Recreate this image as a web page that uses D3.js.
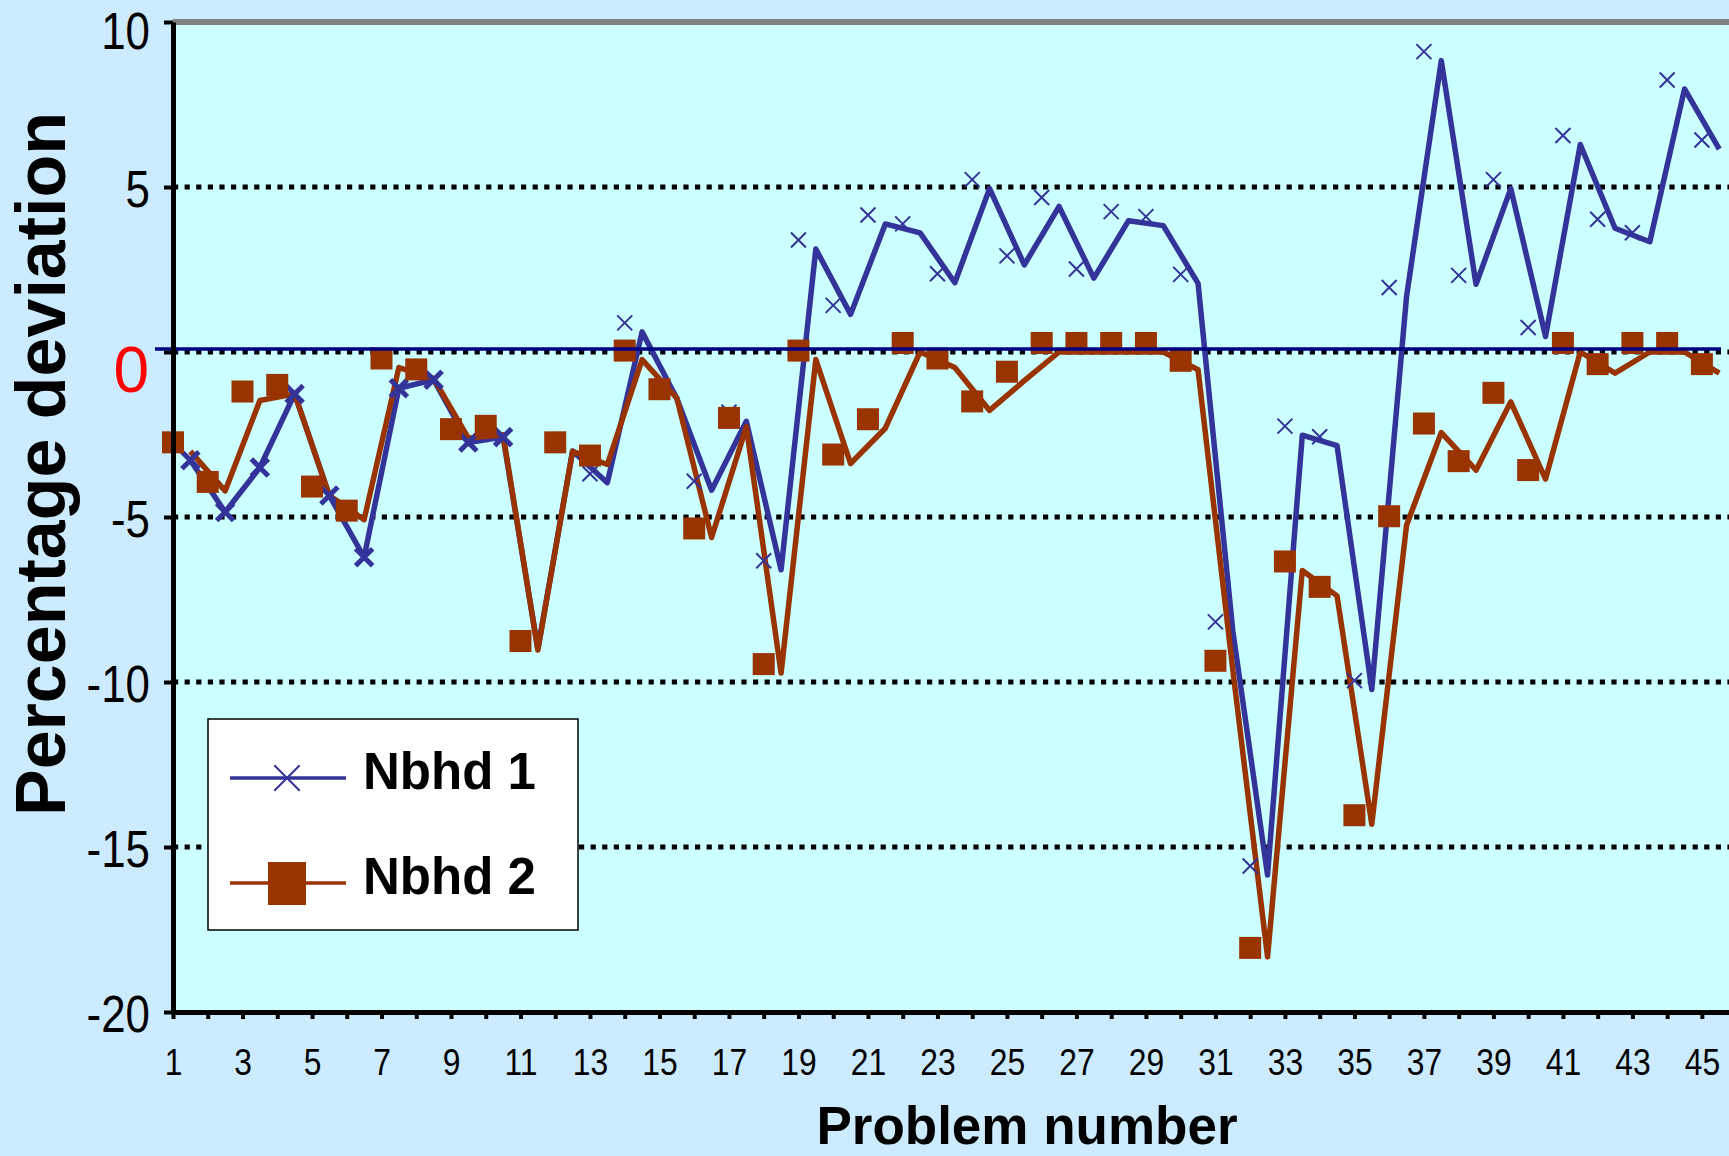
<!DOCTYPE html>
<html>
<head>
<meta charset="utf-8">
<script src="https://cdn.jsdelivr.net/npm/d3@7"></script>
<style>
    body { margin: 0; background: #cdebff; }
    .canvas svg { display: block; }
</style>
</head>
<body>
<div class="canvas"></div>
<script>
// values (percentage deviation per problem)
const problems = d3.range(1, 46);
const nbhd1 = [-3.28, -4.85, -3.5, -1.27, -4.35, -6.22, -1.1, -0.84, -2.74, -2.58,
    -9.0, -3.0, -3.96, 0.61, -1.41, -4.19, -2.1, -6.6, 3.12, 1.14,
    3.88, 3.61, 2.1, 4.95, 2.64, 4.41, 2.24, 3.98, 3.83, 2.08,
    -8.45, -15.85, -2.52, -2.84, -10.23, 1.68, 8.83, 2.05, 4.95, 0.47,
    6.29, 3.75, 3.34, 7.97, 6.15];
const nbhd2 = [-3.01, -4.21, -1.47, -1.27, -4.35, -5.08, -0.47, -0.8, -2.61, -2.51,
    -9.03, -3.01, -3.41, -0.23, -1.4, -5.62, -2.27, -9.73, -0.23, -3.38,
    -2.31, 0, -0.47, -1.77, -0.87, 0, 0, 0, 0, -0.54,
    -9.63, -18.33, -6.62, -7.39, -14.31, -5.25, -2.44, -3.58, -1.51, -3.85,
    0, -0.64, 0, 0, -0.64];
const seriesNames = ['Nbhd 1', 'Nbhd 2'];
const yTickValues = [10, 5, 0, -5, -10, -15, -20];
const gridValues = [5, 0, -5, -10, -15];

const colors = { nbhd1: '#333399', nbhd2: '#993300', zero: '#000080' };
const narrow = 0.86; // tick labels are a condensed face

const width = 1729, height = 1156;
const margin = { top: 22, right: 0, bottom: 144, left: 173 };
const graphWidth = width - margin.left - margin.right;
const graphHeight = height - margin.top - margin.bottom;

const svg = d3.select('.canvas')
    .append('svg')
    .attr('width', width)
    .attr('height', height);

svg.append('rect')
    .attr('width', width)
    .attr('height', height)
    .attr('fill', '#cdebff');

const graph = svg.append('g')
    .attr('transform', `translate(${margin.left}, ${margin.top})`);

// scales
const x = d3.scaleLinear().domain([1, 45.78]).range([0, graphWidth]);
const y = d3.scaleLinear().domain([-20, 10]).range([graphHeight, 0]);

// the line layer sits half a problem right and a touch lower than the markers
const lineDx = 0.5;
const markerDy = -9;

// plot area
graph.append('rect')
    .attr('width', graphWidth)
    .attr('height', graphHeight)
    .attr('fill', '#ccffff');

// dotted gridlines
graph.selectAll('.grid')
    .data(gridValues)
    .enter().append('line')
    .attr('class', 'grid')
    .attr('x1', 0)
    .attr('x2', graphWidth)
    .attr('y1', d => y(d))
    .attr('y2', d => y(d))
    .attr('stroke', '#000')
    .attr('stroke-width', 5)
    .attr('stroke-dasharray', '5.2 6.4');

// grey top border at 10
graph.append('line')
    .attr('x1', 0).attr('x2', graphWidth)
    .attr('y1', y(10)).attr('y2', y(10))
    .attr('stroke', '#808080')
    .attr('stroke-width', 6);

// lines
const line = d3.line()
    .x((d, i) => x(problems[i] + lineDx))
    .y(d => y(d));

[nbhd1, nbhd2].forEach((series, k) => {
    graph.append('path')
        .datum(series)
        .attr('d', line)
        .attr('fill', 'none')
        .attr('stroke', k === 0 ? colors.nbhd1 : colors.nbhd2)
        .attr('stroke-width', 5.5)
        .attr('stroke-linejoin', 'round');
});

const cross = s => `M${-s},${-s}L${s},${s}M${-s},${s}L${s},${-s}`;

// heavy crosses sit on the Nbhd 1 line for the first ten problems
graph.selectAll('.heavy-x')
    .data(nbhd1.slice(0, 10))
    .enter().append('path')
    .attr('class', 'heavy-x')
    .attr('d', cross(8.5))
    .attr('transform', (d, i) => `translate(${x(problems[i] + lineDx)}, ${y(d)})`)
    .attr('stroke', colors.nbhd1)
    .attr('stroke-width', 5)
    .attr('fill', 'none');

// thin crosses for the rest, on the marker layer
graph.selectAll('.thin-x')
    .data(nbhd1.map((v, i) => ({ p: problems[i], v })).filter(d => d.p > 10))
    .enter().append('path')
    .attr('class', 'thin-x')
    .attr('d', cross(7.5))
    .attr('transform', d => `translate(${x(d.p)}, ${y(d.v) + markerDy})`)
    .attr('stroke', colors.nbhd1)
    .attr('stroke-width', 2)
    .attr('fill', 'none');

// squares for Nbhd 2
graph.selectAll('.sq')
    .data(nbhd2)
    .enter().append('rect')
    .attr('class', 'sq')
    .attr('x', (d, i) => x(problems[i]) - 11)
    .attr('y', d => y(d) + markerDy - 11)
    .attr('width', 22)
    .attr('height', 22)
    .attr('fill', colors.nbhd2);

// navy zero line
graph.append('line')
    .attr('x1', -18).attr('x2', graphWidth - 8)
    .attr('y1', y(0) - 3).attr('y2', y(0) - 3)
    .attr('stroke', colors.zero)
    .attr('stroke-width', 3.5);

// axes
const yAxis = d3.axisLeft(y)
    .tickValues(yTickValues)
    .tickSize(9)
    .tickSizeOuter(0)
    .tickPadding(14)
    .tickFormat(d => String(d));

const xAxis = d3.axisBottom(x)
    .tickValues(problems)
    .tickSize(7)
    .tickSizeOuter(0)
    .tickPadding(30)
    .tickFormat(d => d % 2 === 1 ? String(d) : '');

const yAxisGroup = graph.append('g').attr('class', 'y-axis').call(yAxis);
const xAxisGroup = graph.append('g').attr('class', 'x-axis')
    .attr('transform', `translate(0, ${graphHeight})`)
    .call(xAxis);

[yAxisGroup, xAxisGroup].forEach(g => {
    g.select('.domain').attr('stroke', '#000').attr('stroke-width', 5);
    g.selectAll('.tick line').attr('stroke', '#000').attr('stroke-width', 4);
});

yAxisGroup.selectAll('text')
    .attr('font-family', '"Liberation Sans", Arial, sans-serif')
    .attr('font-size', 51)
    .attr('fill', '#000')
    .attr('x', -23 / narrow)
    .attr('transform', `scale(${narrow}, 1)`)
    .attr('dy', '0.38em');

// keep the top label inside the page
yAxisGroup.selectAll('.tick')
    .filter(d => d === 10)
    .select('text')
    .attr('dy', '0.52em');

yAxisGroup.selectAll('.tick')
    .filter(d => d === 0)
    .select('text')
    .attr('font-size', 64)
    .attr('fill', '#ff0000')
    .attr('x', -24)
    .attr('transform', null)
    .attr('dy', '0.62em');

xAxisGroup.selectAll('text')
    .attr('font-family', '"Liberation Sans", Arial, sans-serif')
    .attr('font-size', 37)
    .attr('fill', '#000')
    .attr('transform', `scale(${narrow}, 1)`);

// axis titles
svg.append('text')
    .attr('transform', `translate(65, 464) rotate(-90)`)
    .attr('text-anchor', 'middle')
    .attr('font-family', '"Liberation Sans", Arial, sans-serif')
    .attr('font-weight', 'bold')
    .attr('font-size', 70)
    .text('Percentage deviation');

svg.append('text')
    .attr('x', 1027)
    .attr('y', 1144)
    .attr('text-anchor', 'middle')
    .attr('font-family', '"Liberation Sans", Arial, sans-serif')
    .attr('font-weight', 'bold')
    .attr('font-size', 53)
    .text('Problem number');

// legend
const legend = svg.append('g').attr('transform', 'translate(208, 719)');
legend.append('rect')
    .attr('width', 370)
    .attr('height', 211)
    .attr('fill', '#fff')
    .attr('stroke', '#000')
    .attr('stroke-width', 1.5);

const items = legend.selectAll('.item')
    .data(seriesNames)
    .enter().append('g')
    .attr('class', 'item')
    .attr('transform', (d, i) => `translate(0, ${59 + i * 105})`);

items.append('line')
    .attr('x1', 22).attr('x2', 138)
    .attr('stroke', (d, i) => i === 0 ? colors.nbhd1 : colors.nbhd2)
    .attr('stroke-width', 3.5);

items.filter((d, i) => i === 0).append('path')
    .attr('d', cross(12.7))
    .attr('transform', 'translate(79, 0)')
    .attr('stroke', colors.nbhd1)
    .attr('stroke-width', 2)
    .attr('fill', 'none');

items.filter((d, i) => i === 1).append('rect')
    .attr('x', 60).attr('y', -21)
    .attr('width', 38).attr('height', 43)
    .attr('fill', colors.nbhd2);

items.append('text')
    .attr('x', 155)
    .attr('y', 11)
    .attr('font-family', '"Liberation Sans", Arial, sans-serif')
    .attr('font-weight', 'bold')
    .attr('font-size', 51)
    .text(d => d);
</script>
</body>
</html>
